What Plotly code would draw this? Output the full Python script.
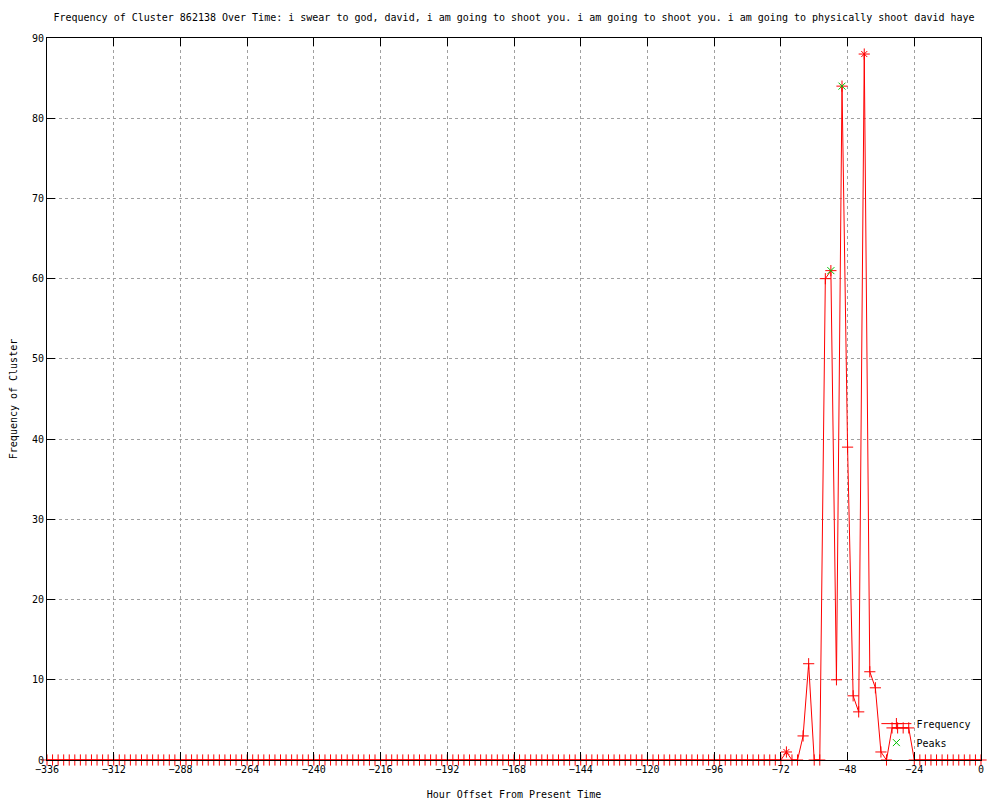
import plotly.graph_objects as go

# Hour offsets (sampled every 2 hours)
hours = list(range(-336, 1, 2))

# Frequency values, one per hour offset above
freq = [
    0, 0, 0, 0, 0, 0, 0, 0, 0, 0, 0, 0,   # -336 .. -314
    0, 0, 0, 0, 0, 0, 0, 0, 0, 0, 0, 0,   # -312 .. -290
    0, 0, 0, 0, 0, 0, 0, 0, 0, 0, 0, 0,   # -288 .. -266
    0, 0, 0, 0, 0, 0, 0, 0, 0, 0, 0, 0,   # -264 .. -242
    0, 0, 0, 0, 0, 0, 0, 0, 0, 0, 0, 0,   # -240 .. -218
    0, 0, 0, 0, 0, 0, 0, 0, 0, 0, 0, 0,   # -216 .. -194
    0, 0, 0, 0, 0, 0, 0, 0, 0, 0, 0, 0,   # -192 .. -170
    0, 0, 0, 0, 0, 0, 0, 0, 0, 0, 0, 0,   # -168 .. -146
    0, 0, 0, 0, 0, 0, 0, 0, 0, 0, 0, 0,   # -144 .. -122
    0, 0, 0, 0, 0, 0, 0, 0, 0, 0, 0, 0,   # -120 .. -98
    0, 0, 0, 0, 0, 0, 0, 0, 0, 0, 0, 0,   # -96 .. -74
    0, 1, 0, 0, 3, 12, 0, 0, 60, 61, 10, 84,   # -72 .. -50
    39, 8, 6, 88, 11, 9, 1, 0, 4, 4, 4, 4,     # -48 .. -26
    0, 0, 0, 0, 0, 0, 0, 0, 0, 0, 0, 0,        # -24 .. -2
    0,                                          # 0
]

# Detected peaks
peak_hours = [-54, -50]
peak_vals = [61, 84]

# Points drawn with red star markers
star_hours = [-70, -42]
star_vals = [1, 88]

title_text = ("Frequency of Cluster 862138 Over Time: i swear to god, david, i am going to "
              "shoot you. i am going to shoot you. i am going to physically shoot david haye")
x_ticks = list(range(-336, 1, 24))
y_ticks = list(range(0, 91, 10))

FONT = "DejaVu Sans Mono"

fig = go.Figure()
fig.add_trace(go.Scatter(
    x=hours, y=freq, mode="lines+markers", name="Frequency",
    line=dict(color="#ff0000", width=1),
    marker=dict(symbol="cross-thin", size=8, line=dict(color="#ff0000", width=1), color="#ff0000"),
    cliponaxis=False,
))
fig.add_trace(go.Scatter(
    x=star_hours, y=star_vals, mode="markers", showlegend=False,
    marker=dict(symbol="x-thin", size=6, line=dict(color="#ff0000", width=1)),
    cliponaxis=False,
))
fig.add_trace(go.Scatter(
    x=peak_hours, y=peak_vals, mode="markers", name="Peaks",
    marker=dict(symbol="x-thin", size=7, line=dict(color="#00c000", width=1)),
    cliponaxis=False,
))

axis_common = dict(
    showline=True, linecolor="black", linewidth=1, mirror="ticks",
    ticks="inside", ticklen=8, tickcolor="black", tickwidth=1,
    showgrid=True, gridcolor="#a0a0a0", griddash="dot", gridwidth=1,
    zeroline=False, automargin=False,
    tickfont=dict(family=FONT, size=10, color="black"),
)

fig.update_xaxes(
    range=[-336, 0], tickmode="array", tickvals=x_ticks,
    title=dict(text="Hour Offset From Present Time", font=dict(family=FONT, size=10, color="black"), standoff=17),
    **axis_common,
)
fig.update_yaxes(
    range=[0, 90], tickmode="array", tickvals=y_ticks,
    title=dict(text="Frequency of Cluster", font=dict(family=FONT, size=10, color="black"), standoff=12),
    **axis_common,
)

fig.update_layout(
    width=1000, height=800,
    margin=dict(l=47, r=19, t=38, b=40),
    paper_bgcolor="white", plot_bgcolor="white",
    title=dict(text=title_text, x=0.514, xanchor="center", y=0.978, yanchor="middle",
               font=dict(family=FONT, size=10, color="black"), automargin=False),
    legend=dict(x=0.888, y=0.004, xanchor="left", yanchor="bottom",
                bgcolor="rgba(0,0,0,0)", font=dict(family=FONT, size=10, color="black"),
                tracegroupgap=0, itemwidth=30),
    showlegend=True,
)

fig.write_html("out.html", config={"displayModeBar": False},
               post_script="document.body.style.margin='0';document.body.style.padding='0';")
